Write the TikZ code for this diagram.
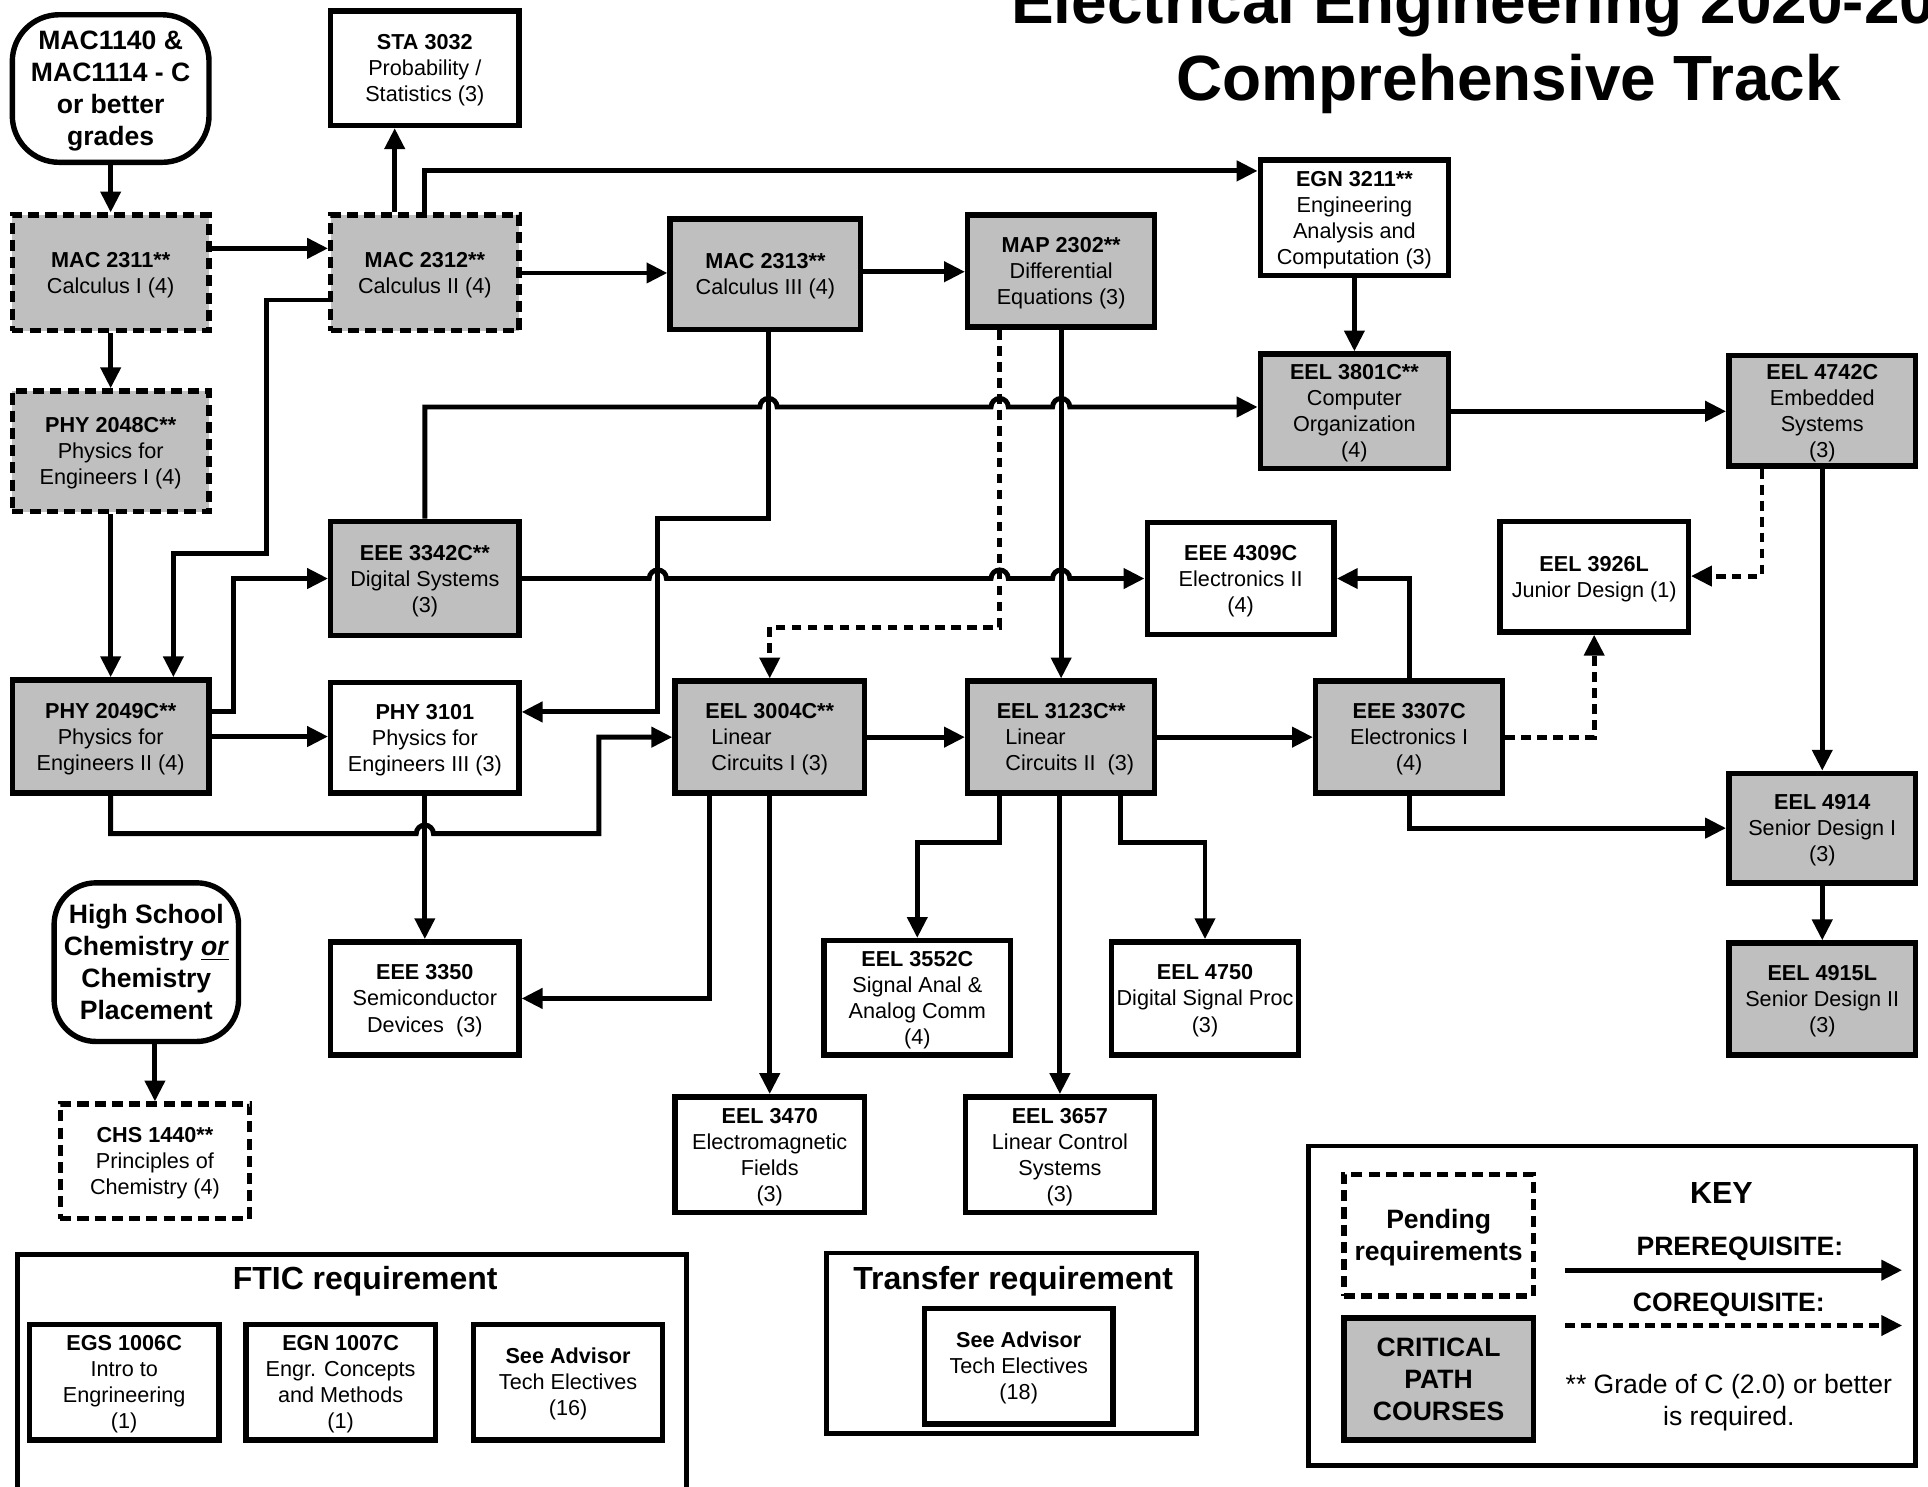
\documentclass[tikz,border=0pt]{standalone}
\usepackage{fontspec}
\setmainfont{Liberation Sans}
\usepackage{calc}
\usetikzlibrary{arrows.meta}
\definecolor{critgray}{RGB}{191,191,191}
\tikzset{
  every node/.style={font=\fontsize{8.8}{10.6}\selectfont, align=center, inner sep=0pt},
  course/.style={draw, line width=2.2pt, rectangle, text depth=-1.1pt},
  crit/.style={course, fill=critgray},
  pend/.style={dash pattern=on 4.5pt off 2.5pt},
  wh/.style 2 args={minimum width={#1*0.5pt}, minimum height={#2*0.5pt}},
  conn/.style={line width=2pt, -{Triangle[length=8.5pt,width=8pt]}},
  coreq/.style={conn, dash pattern=on 4pt off 2.5pt},
  bigtxt/.style={font=\bfseries\fontsize{10.8}{13}\selectfont},
  container/.style={draw, line width=2pt, rectangle},
  hdr/.style={font=\bfseries\fontsize{13}{15}\selectfont},
  ttl/.style={font=\bfseries\fontsize{26}{31}\selectfont},
}
\newcommand{\hp}{arc[start angle=180,end angle=360,radius=7]}
\begin{document}
\begin{tikzpicture}[x=0.5pt,y=-0.5pt]
\useasboundingbox (0,0) rectangle (1568,1209);

% titles
\node[ttl, anchor=base west] (title1) at (822,19) {Electrical Engineering 2020-20};
\node[ttl, anchor=base] (title2) at (1227,82) {Comprehensive Track};

% containers
\node[container, wh={544}{193}] (ftic) at (286,1116.5) {};
\node[hdr] (ftictitle) at (297,1042) {FTIC requirement};
\node[container, wh={301}{147}] (transfer) at (822.5,1092.5) {};
\node[hdr] (transfertitle) at (824,1042) {Transfer requirement};
\node[container, wh={494}{260}] (key) at (1311,1062) {};

% course nodes
\node[course, wh={160}{120}, rounded corners=19pt, bigtxt, text depth=0pt] (mac1140) at (90,72) {MAC1140 \&\\MAC1114 - C\\or better\\grades};
\node[course, wh={153}{93}, fill=white] (sta3032) at (345.5,55.5) {\textbf{STA 3032}\\Probability /\\Statistics (3)};
\node[crit, pend, wh={160}{94}] (mac2311) at (90,222) {\textbf{MAC 2311**}\\Calculus I (4)};
\node[crit, pend, wh={153}{94}] (mac2312) at (345.5,222) {\textbf{MAC 2312**}\\Calculus II (4)};
\node[crit, wh={155}{90}] (mac2313) at (622.5,223) {\textbf{MAC 2313**}\\Calculus III (4)};
\node[crit, wh={152}{91}] (map2302) at (863,220.5) {\textbf{MAP 2302**}\\Differential\\Equations (3)};
\node[course, wh={153}{94}] (egn3211) at (1101.5,177) {\textbf{EGN 3211**}\\Engineering\\Analysis and\\Computation (3)};
\node[crit, wh={153}{93}] (eel3801) at (1101.5,334.5) {\textbf{EEL 3801C**}\\Computer\\Organization\\(4)};
\node[crit, wh={152}{90}] (eel4742) at (1482,334) {\textbf{EEL 4742C}\\Embedded\\Systems\\(3)};
\node[crit, pend, wh={160}{98}] (phy2048) at (90,367) {\textbf{PHY 2048C**}\\Physics for\\Engineers I (4)};
\node[crit, wh={153}{93}] (eee3342) at (345.5,470.5) {\textbf{EEE 3342C**}\\Digital Systems\\(3)};
\node[course, wh={152}{91}] (eee4309) at (1009,470.5) {\textbf{EEE 4309C}\\Electronics II\\(4)};
\node[course, wh={153}{90}] (eel3926) at (1296.5,469) {\textbf{EEL 3926L}\\Junior Design (1)};
\node[crit, wh={160}{92}] (phy2049) at (90,599) {\textbf{PHY 2049C**}\\Physics for\\Engineers II (4)};
\node[course, wh={153}{90}] (phy3101) at (345.5,600) {\textbf{PHY 3101}\\Physics for\\Engineers III (3)};
\node[crit, wh={154}{91}] (eel3004) at (626,599.5) {\textbf{EEL 3004C**}\\\makebox[\widthof{Circuits I (3)}][l]{Linear}\\Circuits I (3)};
\node[crit, wh={152}{91}] (eel3123) at (863,599.5) {\textbf{EEL 3123C**}\\\hspace*{7pt}\makebox[\widthof{Circuits II\ \ (3)}][l]{Linear}\\\hspace*{7pt}Circuits II\ \ (3)};
\node[crit, wh={152}{91}] (eee3307) at (1146,599.5) {\textbf{EEE 3307C}\\Electronics I\\(4)};
\node[crit, wh={152}{89}] (eel4914) at (1482,673.5) {\textbf{EEL 4914}\\Senior Design I\\(3)};
\node[crit, wh={152}{91}] (eel4915) at (1482,812.5) {\textbf{EEL 4915L}\\Senior Design II\\(3)};
\node[course, wh={150}{129}, rounded corners=17pt, bigtxt, text depth=0pt] (hschem) at (119,782.5) {High School\\Chemistry \underline{\textit{or}}\\Chemistry\\Placement};
\node[course, wh={153}{92}] (eee3350) at (345.5,812) {\textbf{EEE 3350}\\Semiconductor\\Devices\ \ (3)};
\node[course, wh={152}{93}] (eel3552) at (746,811.5) {\textbf{EEL 3552C}\\Signal Anal \&\\Analog Comm\\(4)};
\node[course, wh={152}{92}] (eel4750) at (980,812) {\textbf{EEL 4750}\\Digital Signal Proc\\(3)};
\node[course, wh={154}{94}] (eel3470) at (626,939) {\textbf{EEL 3470}\\Electromagnetic\\Fields\\(3)};
\node[course, wh={154}{94}] (eel3657) at (862,939) {\textbf{EEL 3657}\\Linear Control\\Systems\\(3)};
\node[course, pend, wh={154}{93}] (chs1440) at (126,944.5) {\textbf{CHS 1440**}\\Principles of\\Chemistry (4)};
\node[course, wh={154}{94}] (egs1006) at (101,1124) {\textbf{EGS 1006C}\\Intro to\\Engrineering\\(1)};
\node[course, wh={154}{94}] (egn1007) at (277,1124) {\textbf{EGN 1007C}\\Engr. Concepts\\and Methods\\(1)};
\node[course, wh={154}{94}] (adv16) at (462,1124) {\textbf{See Advisor}\\Tech Electives\\(16)};
\node[course, wh={153}{94}] (adv18) at (828.5,1111) {\textbf{See Advisor}\\Tech Electives\\(18)};

% key
\node[course, pend, wh={154}{99}, bigtxt, text depth=-1.7pt] (pending) at (1170,1004.5) {Pending\\requirements};
\node[crit, wh={154}{99}, bigtxt, text depth=-0.8pt] (critical) at (1170,1121.5) {CRITICAL\\PATH\\COURSES};
\node[font=\bfseries\fontsize{12.4}{14}\selectfont] (keytitle) at (1400,970) {KEY};
\node[bigtxt] (prereq) at (1415,1016) {PREREQUISITE:};
\node[bigtxt] (coreq) at (1406,1061) {COREQUISITE:};
\node[font=\fontsize{10.8}{13}\selectfont] (note) at (1406,1141) {** Grade of C (2.0) or better\\is required.};
\coordinate (k1) at (1273,1033);
\coordinate (k2) at (1547,1033);
\coordinate (k3) at (1273,1078);
\coordinate (k4) at (1547,1078);
\draw[conn] (k1) -- (k2);
\draw[coreq] (k3) -- (k4);

% connectors
\draw[conn] (mac1140.south) -- (mac2311.north);
\draw[conn] (mac2311.east |- 0,202) -- (mac2312.west |- 0,202);
\draw[conn] (mac2311.south) -- (phy2048.north);
\draw[conn] (321,0 |- mac2312.north) -- (321,0 |- sta3032.south);
\draw[conn] (mac2312.north) |- (egn3211.west |- 0,139);
\draw[conn] (mac2312.east) -- (mac2313.west |- mac2312.east);
\draw[conn] (mac2313.east |- 0,221) -- (map2302.west |- 0,221);
\draw[conn] (mac2312.west |- 0,244) -- (217,244) -- (217,450) -- (141,450) -- (141,0 |- phy2049.north);
\draw[conn] (phy2048.south) -- (phy2049.north);
\draw[conn] (phy2049.east |- 0,579) -- (190,579) -- (190,470.5) -- (eee3342.west);
\draw[conn] (phy2049.east) -- (phy3101.west |- phy2049.east);
\draw[conn] (phy2049.south) -- (90,678) -- (338.5,678) \hp -- (487,678) -- (487,599.5) -- (eel3004.west);
\draw[conn] (phy3101.south) -- (eee3350.north);
\draw[conn] (eee3342.north) -- (345.5,331) -- (618,331) \hp -- (806,331) \hp -- (856,331) \hp -- (eel3801.west |- 0,331);
\draw[conn] (eee3342.east) -- (528,470.5) \hp -- (806,470.5) \hp -- (856,470.5) \hp -- (eee4309.west);
\draw[conn] (625,0 |- mac2313.south) -- (625,421.5) -- (535,421.5) -- (535,579) -- (phy3101.east |- 0,579);
\draw[coreq] (813,0 |- map2302.south) -- (813,510) -- (626,510) -- (eel3004.north);
\draw[conn] (map2302.south) -- (eel3123.north);
\draw[conn] (egn3211.south) -- (eel3801.north);
\draw[conn] (eel3801.east) -- (eel4742.west |- eel3801.east);
\draw[coreq] (1433,0 |- eel4742.south) -- (1433,468.5) -- (eel3926.east |- 0,468.5);
\draw[conn] (eel4742.south) -- (eel4914.north);
\draw[conn] (eel4914.south) -- (eel4915.north);
\draw[conn] (eel3004.east) -- (eel3123.west);
\draw[conn] (eel3123.east) -- (eee3307.west);
\draw[conn] (eee3307.north) |- (eee4309.east);
\draw[coreq] (eee3307.east) -| (eel3926.south);
\draw[conn] (eee3307.south) |- (eel4914.west);
\draw[conn] (577,0 |- eel3004.south) |- (eee3350.east);
\draw[conn] (eel3004.south) -- (eel3470.north);
\draw[conn] (813,0 |- eel3123.south) -- (813,685) -| (eel3552.north);
\draw[conn] (862,0 |- eel3123.south) -- (862,0 |- eel3657.north);
\draw[conn] (911,0 |- eel3123.south) -- (911,685) -| (eel4750.north);
\draw[conn] (126,0 |- hschem.south) -- (chs1440.north);
\end{tikzpicture}
\end{document}
